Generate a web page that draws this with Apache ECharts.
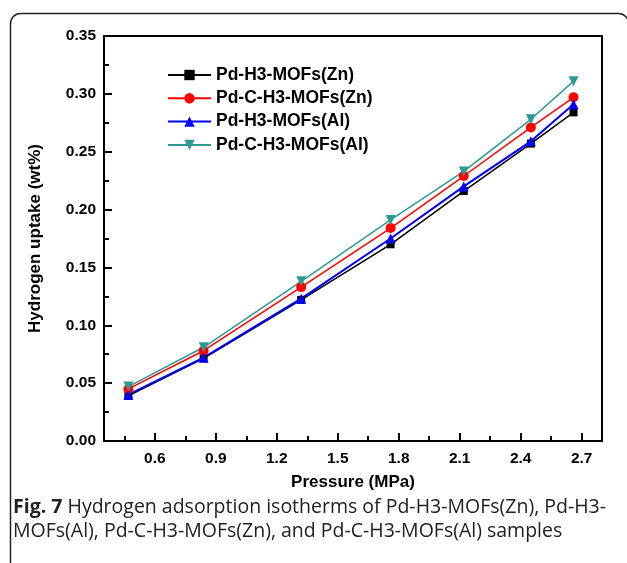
<!DOCTYPE html>
<html><head><meta charset="utf-8">
<script src="https://cdn.jsdelivr.net/npm/echarts@6/dist/echarts.min.js"></script>
<style>html,body{margin:0;padding:0;background:#fff}#c{width:627px;height:563px}</style>
</head><body><div id="c"></div>
<script>
const pressure = [0.47, 0.84, 1.32, 1.76, 2.12, 2.45, 2.66];
const pdH3Zn  = [0.039, 0.0715, 0.122, 0.170, 0.216, 0.257, 0.284];
const pdCH3Zn = [0.045, 0.078, 0.133, 0.184, 0.229, 0.271, 0.297];
const pdH3Al  = [0.040, 0.072, 0.123, 0.175, 0.220, 0.259, 0.291];
const pdCH3Al = [0.047, 0.081, 0.138, 0.191, 0.233, 0.278, 0.311];
const seriesNames = ['Pd-H3-MOFs(Zn)', 'Pd-C-H3-MOFs(Zn)', 'Pd-H3-MOFs(Al)', 'Pd-C-H3-MOFs(Al)'];
const xMajor = [0.6, 0.9, 1.2, 1.5, 1.8, 2.1, 2.4, 2.7];
const xMinor = [0.45, 0.75, 1.05, 1.35, 1.65, 1.95, 2.25, 2.55];
const xTitle = 'Pressure (MPa)';
const yTitle = 'Hydrogen uptake (wt%)';
const captionBold = 'Fig. 7';
const captionLine1 = ' Hydrogen adsorption isotherms of Pd-H3-MOFs(Zn), Pd-H3-';
const captionLine2 = 'MOFs(Al), Pd-C-H3-MOFs(Zn), and Pd-C-H3-MOFs(Al) samples';

const font = '"Liberation Sans", Arial, sans-serif';
const pair = ys => pressure.map((x, i) => [x, ys[i]]);
const styles = [
  {data: pdH3Zn, color: '#000000', symbol: 'rect', size: 8, w: 1.5, rot: 0},
  {data: pdCH3Zn, color: '#ff0000', symbol: 'circle', size: 10, w: 1.5, rot: 0},
  {data: pdH3Al, color: '#0000ff', symbol: 'triangle', size: 10, w: 2, rot: 0},
  {data: pdCH3Al, color: '#2e9990', symbol: 'triangle', size: 10, w: 1.5, rot: 180}
];
const chart = echarts.init(document.getElementById('c'));
chart.setOption({
  animation: false,
  backgroundColor: '#fff',
  grid: {left: 104, right: 25, top: 36, bottom: 122, show: true, borderColor: '#000', borderWidth: 2, outerBoundsMode: 'none'},
  legend: {
    orient: 'vertical', left: 167, top: 66, padding: 0, itemWidth: 43, itemHeight: 13, itemGap: 5.3,
    data: seriesNames,
    textStyle: {fontFamily: font, fontWeight: 'bold', fontSize: 17.5, color: '#000'}
  },
  xAxis: [{
    type: 'value', min: 0.35, max: 2.8, position: 'bottom',
    name: xTitle, nameLocation: 'middle', nameGap: 33,
    nameTextStyle: {fontFamily: font, fontWeight: 'bold', fontSize: 17, color: '#000'},
    axisLine: {lineStyle: {color: '#000', width: 2}},
    axisTick: {inside: true, length: 8, lineStyle: {color: '#000', width: 2}, customValues: xMajor},
    axisLabel: {customValues: xMajor, margin: 10, fontFamily: font, fontWeight: 'bold', fontSize: 15.5, color: '#000', formatter: v => v.toFixed(1)},
    splitLine: {show: false}
  }, {
    type: 'value', min: 0.35, max: 2.8, position: 'bottom',
    axisLine: {show: false},
    axisTick: {inside: true, length: 5, lineStyle: {color: '#000', width: 2}, customValues: xMinor},
    axisLabel: {show: false},
    splitLine: {show: false}
  }],
  yAxis: {
    type: 'value', min: 0, max: 0.35, interval: 0.05,
    name: yTitle, nameLocation: 'middle', nameGap: 60, nameRotate: 90,
    nameTextStyle: {fontFamily: font, fontWeight: 'bold', fontSize: 17, color: '#000'},
    axisLine: {lineStyle: {color: '#000', width: 2}},
    axisTick: {inside: true, length: 8, lineStyle: {color: '#000', width: 2}},
    minorTick: {show: true, splitNumber: 2, length: 5, lineStyle: {color: '#000', width: 2}},
    axisLabel: {margin: 8, fontFamily: font, fontWeight: 'bold', fontSize: 15.5, color: '#000', formatter: v => v.toFixed(2)},
    splitLine: {show: false}
  },
  series: styles.map((s, i) => ({
    name: seriesNames[i], type: 'line', xAxisIndex: 0,
    data: pair(s.data), symbol: s.symbol, symbolSize: s.size, symbolRotate: s.rot,
    showAllSymbol: true,
    lineStyle: {color: s.color, width: s.w},
    itemStyle: {color: s.color}
  })),
  graphic: [
    {type: 'rect', left: 8, top: 11, shape: {width: 618, height: 600, r: 10}, style: {fill: 'none', stroke: '#222', lineWidth: 1.5}, z: 100},
    {type: 'text', left: 13, top: 497, z: 100, style: {
      text: '{b|' + captionBold + '}{n|' + captionLine1 + '}\n{n|' + captionLine2 + '}',
      rich: {
        b: {fontFamily: '"Open Sans", sans-serif', fontWeight: 'bold', fontSize: 19.5, lineHeight: 24, fill: '#222'},
        n: {fontFamily: '"Open Sans", sans-serif', fontSize: 19.5, lineHeight: 24, fill: '#222'}
      }
    }}
  ]
});
</script></body></html>
